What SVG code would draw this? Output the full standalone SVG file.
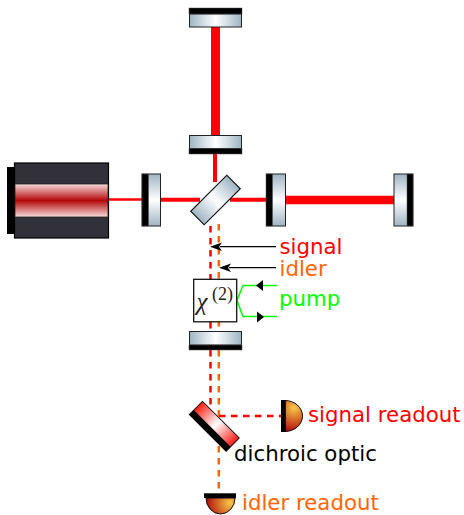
<svg xmlns="http://www.w3.org/2000/svg" width="464" height="515" viewBox="0 0 464 515">
<style>
.lbl{font-family:"DejaVu Sans",sans-serif;font-size:21.300px}
.frame{stroke:#222;stroke-width:1}
.blk{fill:#000;stroke:#555;stroke-width:.5}
</style>
<defs>
<linearGradient id="gh" x1="0" x2="1" y1="0" y2="0"><stop offset="0" stop-color="#9fb4c3"/><stop offset=".5" stop-color="#fff"/><stop offset="1" stop-color="#9fb4c3"/></linearGradient>
<linearGradient id="gv" x1="0" x2="0" y1="0" y2="1"><stop offset="0" stop-color="#9fb4c3"/><stop offset=".5" stop-color="#fff"/><stop offset="1" stop-color="#9fb4c3"/></linearGradient>
<linearGradient id="band" x1="0" x2="0" y1="0" y2="1"><stop offset="0" stop-color="#f6dcdc"/><stop offset=".5" stop-color="#b30808"/><stop offset="1" stop-color="#f6dcdc"/></linearGradient>
<linearGradient id="dich" x1="0" x2="1" y1="0" y2="0"><stop offset="0" stop-color="#ff1a10"/><stop offset=".5" stop-color="#fff"/><stop offset="1" stop-color="#ff1a10"/></linearGradient>
<radialGradient id="det" gradientUnits="userSpaceOnUse" cx="294" cy="408" r="24"><stop offset="0" stop-color="#f8c848"/><stop offset="1" stop-color="#b00a0a"/></radialGradient>
<radialGradient id="det2" gradientUnits="userSpaceOnUse" cx="230" cy="503" r="24"><stop offset="0" stop-color="#f8c848"/><stop offset="1" stop-color="#b00a0a"/></radialGradient>
</defs>
<g id="connectors">
<g fill="none" stroke="#f00">
<path d="M215.500 27V135" stroke-width="9"/>
<path d="M215 154V182" stroke-width="4"/>
<path d="M108 199.500H142" stroke-width="2.500"/>
<path d="M160 199.700H200" stroke-width="4"/>
<path d="M230 199.700H267" stroke-width="4"/>
<path d="M286 200H394" stroke-width="8.500"/>
</g>
<g fill="none" stroke-width="2.500" stroke-dasharray="6.500 5.500">
<path d="M210.500 226V331" stroke="#f00"/>
<path d="M218.800 224V331" stroke="#f60"/>
<path d="M210.500 350V405" stroke="#f00"/>
<path d="M218.800 350V420" stroke="#f60"/>
<path d="M219 416H281" stroke="#f00"/>
<path d="M218.800 446V493" stroke="#f60"/>
</g>
<path d="M276 246.700H220" stroke="#000" stroke-width="1.300" fill="none"/>
<path d="M210 246.700L222 242.500L219 246.700L222 251Z" fill="#000"/>
<path d="M276 267.700H229" stroke="#000" stroke-width="1.300" fill="none"/>
<path d="M219 267.700L231 263.500L228 267.700L231 272Z" fill="#000"/>
<path d="M277 285.500H243L237 300.500L243 316.500H277" fill="none" stroke="#0f0" stroke-width="1.500"/>
<path d="M256 285.500L263 280V291Z" fill="#000"/>
<path d="M257 311.500L264 317L257 322.500Z" fill="#000"/>
</g>
<g id="laser">
<rect x="7" y="167" width="7" height="67" fill="#000"/>
<rect x="14.500" y="163" width="94" height="75" fill="#323038" stroke="#000" stroke-width="1.200"/>
<rect x="15" y="184" width="93" height="33" fill="url(#band)" stroke="#222" stroke-width=".8"/>
</g>
<g id="mirror-left">
<rect x="142" y="174" width="18.500" height="52" fill="url(#gv)" class="frame"/>
<rect x="142" y="174" width="6.500" height="52" class="blk"/>
</g>
<g id="mirror-top">
<rect x="189.500" y="14" width="52" height="13" fill="url(#gh)" class="frame"/>
<rect x="189" y="8" width="53" height="6" class="blk"/>
</g>
<g id="mirror-upper">
<rect x="189.500" y="135.500" width="52" height="13" fill="url(#gh)" class="frame"/>
<rect x="189" y="148.500" width="53" height="5.500" class="blk"/>
</g>
<g id="beamsplitter">
<rect x="-25.500" y="-9.500" width="51" height="19" fill="url(#gh)" stroke="#111" stroke-width="1.200" transform="translate(215.500 200) rotate(-45)"/>
</g>
<g id="mirror-mid">
<rect x="266.500" y="174" width="19" height="52" fill="url(#gv)" class="frame"/>
<rect x="266" y="174" width="6.500" height="52" class="blk"/>
</g>
<g id="mirror-right">
<rect x="394" y="174" width="19" height="52" fill="url(#gv)" class="frame"/>
<rect x="407" y="174" width="6" height="52" class="blk"/>
</g>
<g id="crystal">
<rect x="193.700" y="279.300" width="43" height="42.500" fill="#fff" stroke="#111" stroke-width="1.300"/>
<text x="196.500" y="310" font-family="Liberation Serif,serif" font-style="italic" font-size="25" fill="#222">χ</text>
<text x="212" y="300" font-family="Liberation Serif,serif" font-size="18" fill="#222">(2)</text>
</g>
<g id="mirror-lower">
<rect x="189.500" y="331.500" width="52" height="13.500" fill="url(#gh)" class="frame"/>
<rect x="189" y="345" width="53" height="5" class="blk"/>
</g>
<g id="dichroic">
<g transform="translate(214.300 426.300) rotate(45)">
<rect x="-26" y="-9.300" width="52" height="18.600" fill="url(#dich)" stroke="#111" stroke-width="1"/>
<rect x="-26" y="3" width="52" height="6.300" fill="#000"/>
</g>
</g>
<g id="signal-detector">
<path d="M285 400.500A17.500 15.500 0 0 1 285 431.500Z" fill="url(#det)" stroke="#111" stroke-width="1"/>
<rect x="281" y="400" width="4.700" height="32" fill="#000"/>
</g>
<g id="idler-detector">
<path d="M206 498A14.500 16 0 0 0 235 498Z" fill="url(#det2)" stroke="#111" stroke-width="1"/>
<rect x="204" y="493.300" width="32" height="4.700" fill="#000"/>
</g>
<g id="labels">
<text class="lbl" x="279.500" y="254" fill="#f00">signal</text>
<text class="lbl" x="279.500" y="276" fill="#f60">idler</text>
<text class="lbl" x="279" y="306" fill="#0f0">pump</text>
<text class="lbl" x="308" y="422" fill="#f00">signal readout</text>
<text class="lbl" x="234" y="461" fill="#000">dichroic optic</text>
<text class="lbl" x="242" y="510" fill="#f60">idler readout</text>
</g>
</svg>
